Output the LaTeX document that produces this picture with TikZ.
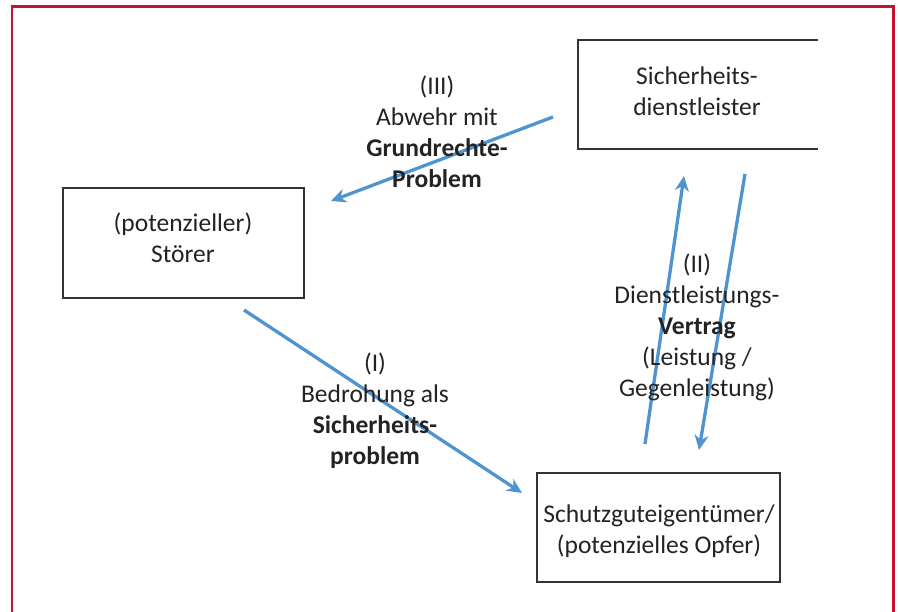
\documentclass[tikz,border=0pt]{standalone}
\usepackage{fontspec}
\setmainfont{Carlito}
\usetikzlibrary{arrows.meta}
\definecolor{frame}{RGB}{196,18,48}
\definecolor{arr}{RGB}{79,148,206}
\definecolor{txt}{RGB}{35,35,35}
\begin{document}
\begin{tikzpicture}[x=1pt,y=-1pt,
  lbl/.style={align=center,text=txt,font=\fontsize{25.5}{31}\selectfont,inner sep=0pt},
  boxline/.style={draw=black!80,line width=1.6pt},
  flow/.style={draw=arr,line width=3.3pt,-{Stealth[length=15pt,width=14pt]}}]
\useasboundingbox (0,0) rectangle (898,612);
\fill[white] (0,0) rectangle (898,612);
% frame
\draw[frame,line width=2.5pt] (12,612) -- (12,6.5) -- (893.5,6.5) -- (893.5,612);
% boxes
\draw[boxline] (63,188) rectangle (304,298);
\draw[boxline] (537,473) rectangle (780,582);
\draw[boxline] (818,40) -- (578,40) -- (578,149) -- (818,149);
% box texts
\node[lbl] (stoerer) at (183,238) {(potenzieller)\\Störer};
\node[lbl] (opfer) at (659,531) {Schutzguteigentümer/\\(potenzielles Opfer)};
\node[lbl] (dienst) at (697,91) {Sicherheits-\\dienstleister};
% arrow endpoints
\coordinate (a1s) at (244,310);
\coordinate (a1e) at (522,493);
\coordinate (a3s) at (553,117);
\coordinate (a3e) at (331,201);
\coordinate (a2s) at (645,444);
\coordinate (a2e) at (684,176);
\coordinate (a4s) at (745,174);
\coordinate (a4e) at (699,450);
\draw[flow] (a1s) -- (a1e);
\draw[flow] (a3s) -- (a3e);
\draw[flow] (a2s) -- (a2e);
\draw[flow] (a4s) -- (a4e);
% labels
\node[lbl] (l1) at (375,411) {(I)\\Bedrohung als\\\textbf{Sicherheits-}\\\textbf{problem}};
\node[lbl] (l3) at (437,132) {(III)\\Abwehr mit\\\textbf{Grundrechte-}\\\textbf{Problem}};
\node[lbl] (l2) at (697,327) {(II)\\Dienstleistungs-\\\textbf{Vertrag}\\(Leistung /\\Gegenleistung)};
\end{tikzpicture}
\end{document}
